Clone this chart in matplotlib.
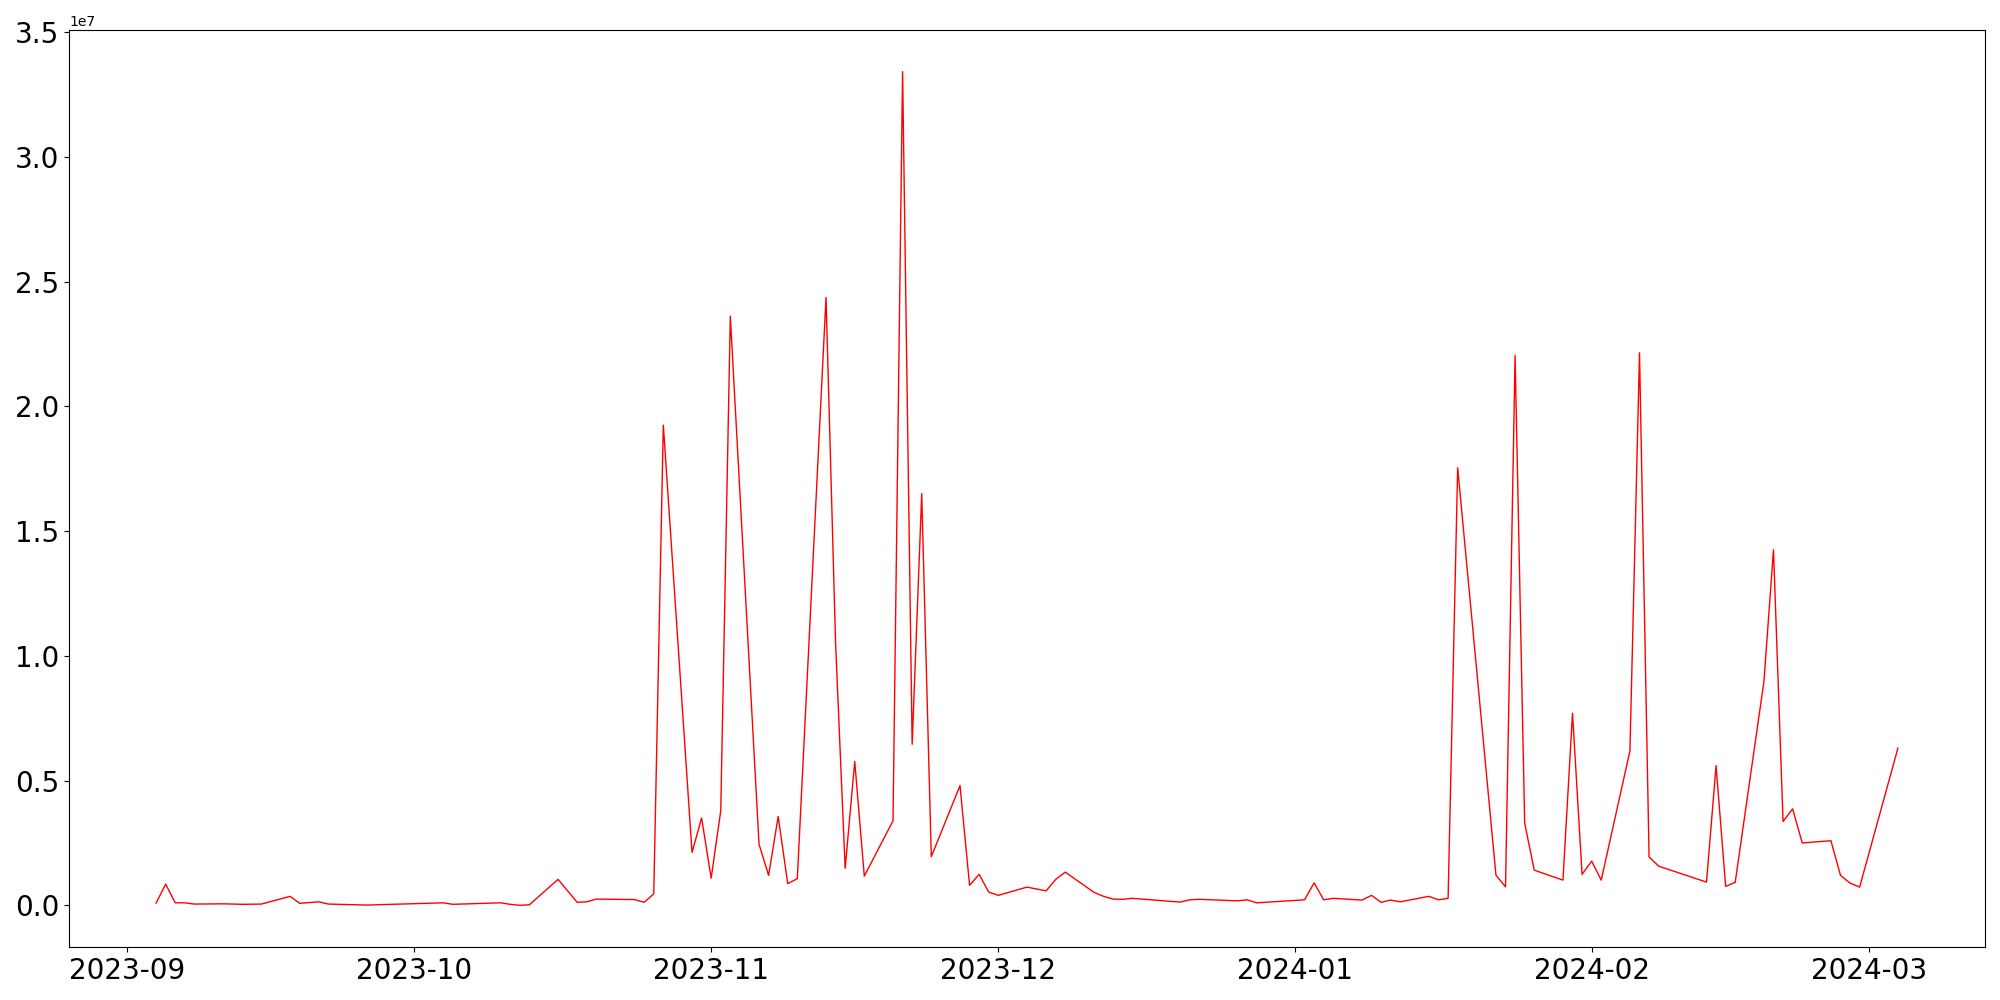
import numpy as np
import pandas as pd
import matplotlib
matplotlib.use("Agg")
import matplotlib.pyplot as plt

dates = [
    "2023-09-04", "2023-09-05", "2023-09-06", "2023-09-07", "2023-09-08",
    "2023-09-11", "2023-09-13", "2023-09-15", "2023-09-18", "2023-09-19",
    "2023-09-21", "2023-09-22", "2023-09-26", "2023-10-04", "2023-10-05",
    "2023-10-10", "2023-10-11", "2023-10-12", "2023-10-13", "2023-10-16",
    "2023-10-18", "2023-10-19", "2023-10-20", "2023-10-24", "2023-10-25",
    "2023-10-26", "2023-10-27", "2023-10-30", "2023-10-31", "2023-11-01",
    "2023-11-02", "2023-11-03", "2023-11-06", "2023-11-07", "2023-11-08",
    "2023-11-09", "2023-11-10", "2023-11-13", "2023-11-14", "2023-11-15",
    "2023-11-16", "2023-11-17", "2023-11-20", "2023-11-21", "2023-11-22",
    "2023-11-23", "2023-11-24", "2023-11-27", "2023-11-28", "2023-11-29",
    "2023-11-30", "2023-12-01", "2023-12-04", "2023-12-06", "2023-12-07",
    "2023-12-08", "2023-12-11", "2023-12-12", "2023-12-13", "2023-12-14",
    "2023-12-15", "2023-12-20", "2023-12-21", "2023-12-22", "2023-12-26",
    "2023-12-27", "2023-12-28", "2024-01-02", "2024-01-03", "2024-01-04",
    "2024-01-05", "2024-01-08", "2024-01-09", "2024-01-10", "2024-01-11",
    "2024-01-12", "2024-01-15", "2024-01-16", "2024-01-17", "2024-01-18",
    "2024-01-22", "2024-01-23", "2024-01-24", "2024-01-25", "2024-01-26",
    "2024-01-29", "2024-01-30", "2024-01-31", "2024-02-01", "2024-02-02",
    "2024-02-05", "2024-02-06", "2024-02-07", "2024-02-08", "2024-02-13",
    "2024-02-14", "2024-02-15", "2024-02-16", "2024-02-19", "2024-02-20",
    "2024-02-21", "2024-02-22", "2024-02-23", "2024-02-26", "2024-02-27",
    "2024-02-28", "2024-02-29", "2024-03-04",
]

# values in millions
values_m = [
    0.09, 0.85, 0.10, 0.10, 0.05,
    0.06, 0.04, 0.05, 0.36, 0.08,
    0.14, 0.05, 0.01, 0.10, 0.04,
    0.10, 0.04, 0.00, 0.02, 1.04,
    0.12, 0.14, 0.25, 0.23, 0.12,
    0.46, 19.25, 2.12, 3.50, 1.09,
    3.79, 23.62, 2.45, 1.20, 3.56,
    0.87, 1.07, 24.37, 10.5, 1.48,
    5.77, 1.17, 3.39, 33.42, 6.46,
    16.5, 1.95, 4.80, 0.80, 1.24,
    0.53, 0.40, 0.73, 0.58, 1.04,
    1.33, 0.52, 0.36, 0.25, 0.24,
    0.28, 0.13, 0.22, 0.24, 0.18,
    0.22, 0.10, 0.22, 0.90, 0.22,
    0.28, 0.21, 0.40, 0.12, 0.21,
    0.14, 0.36, 0.22, 0.28, 17.54,
    1.21, 0.74, 22.05, 3.30, 1.41,
    1.01, 7.70, 1.24, 1.77, 1.01,
    6.19, 22.15, 1.94, 1.57, 0.93,
    5.60, 0.76, 0.92, 8.97, 14.25,
    3.36, 3.87, 2.50, 2.59, 1.20,
    0.89, 0.73, 6.30,
]

x = pd.to_datetime(dates)
y = np.array(values_m) * 1e6

fig, ax = plt.subplots(figsize=(20, 10), dpi=100)
ax.plot(x, y, color="red", linewidth=1)
ax.tick_params(axis="both", labelsize=20)
fig.subplots_adjust(left=0.0345, right=0.9925, top=0.97, bottom=0.053)
plt.savefig("out.png")
